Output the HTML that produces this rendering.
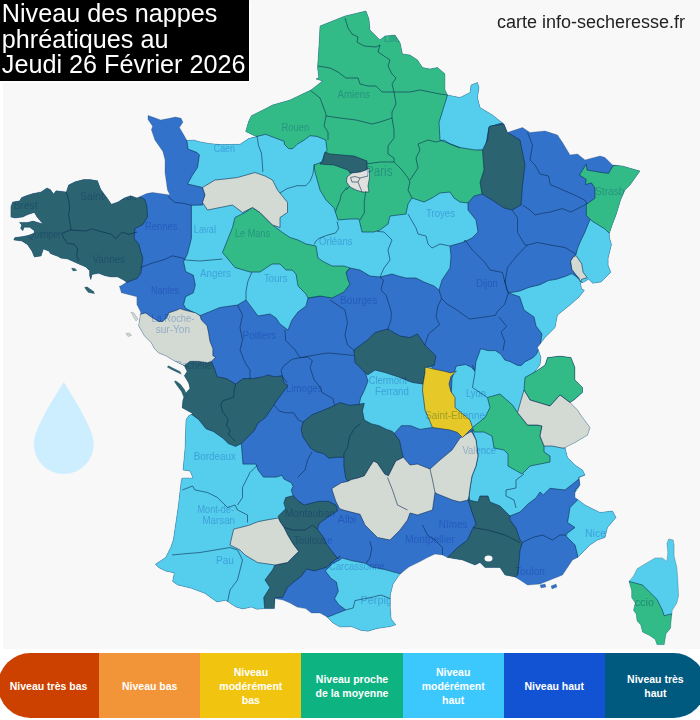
<!DOCTYPE html>
<html><head><meta charset="utf-8"><style>
html,body{margin:0;padding:0;background:#fff;width:700px;height:720px;overflow:hidden;position:relative;font-family:"Liberation Sans",sans-serif}
#map{position:absolute;left:3px;top:0;width:697px;height:649px;background:#f8f8f8}
#title{position:absolute;left:0;top:0;width:249px;height:81px;background:#000;color:#fff;font-size:25.2px;line-height:25.5px;padding:0;box-shadow:1.5px 1.5px 0 #fff}
#title div{padding-left:1.8px;padding-top:1px}
#site{position:absolute;left:497px;top:12px;font-size:18px;color:#222;white-space:nowrap}
#leg{position:absolute;left:-2px;top:653px;width:708px;height:65px;border-radius:32.5px;overflow:hidden;display:flex}
.li{flex:1;display:flex;align-items:center;justify-content:center;text-align:center;color:#fff;font-weight:bold;font-size:10.5px;line-height:14px}
</style></head><body>
<div id="map"></div>
<svg width="700" height="720" viewBox="0 0 700 720" style="position:absolute;left:0;top:0">
<defs><clipPath id="fr"><polygon points="345,16 320,26 319,45 317.5,67.5 318.75,77.5 316,79 322.5,81 311,90 302.5,94 290,100 272.5,105 262.9,110 251.4,115.7 248.6,121.4 245.7,131.4 254.3,135.7 257.1,136.4 248.6,138.6 240,144.3 220,144.6 208.6,143.4 199.4,141.7 193.7,140 186.9,140.6 183.4,134.3 179.4,127.4 182.9,122.3 181.1,118.3 175.4,117.1 169.7,118.3 160.6,120 152.6,117.1 148,115.4 148,119.4 152.6,126.3 151.4,129.7 154.9,140 162.9,151.4 165.1,160 165,172.5 167.5,190 170,195 152.5,192.5 146.7,193.6 137.1,197.9 130.7,195.7 124.3,197.9 117.9,202.1 111.4,204.3 107.1,197.9 100.7,189.3 97.5,180.7 90,179.6 83.6,179.6 75,181.8 68.6,185 66.3,191.9 56,190.7 53.7,194.1 50.3,189.6 46.9,187.9 41.1,191.9 33.1,193.6 27.4,195.3 21.7,197.6 19.4,201 12.6,202.1 10.9,206.7 10.9,217 14.9,218.1 22.9,217 27.4,214.7 34.3,212.4 37,217 43,224 33.1,221 27.4,222.5 22,222.5 19.4,222.5 21.7,225 20.6,228.4 22.9,230.7 24,227.3 29.7,227.3 34.3,230.7 34.3,233 28.6,235.3 22.9,236.4 14.9,237.6 13.7,239.9 21.7,241 27.4,244.4 32,251.3 34.3,257 41.1,255.9 43.4,249 49.1,251.3 50.3,253.6 59.4,257 60,257.9 67.7,259.1 79.3,264.3 85.7,266.9 89.6,270.7 89.6,275.8 90.8,279.7 92.1,274.6 98.6,273.3 105,275.8 111.4,277.1 117.8,277.1 123,279.7 126.8,282.3 120.4,286.1 119.4,286 121.4,292.8 129.2,294.7 136.9,296.7 136.9,304.4 140.8,312.2 138.6,325.7 144.3,335.7 151.4,342.9 154.3,348.6 158.6,352.9 165.7,355.7 172.9,360 178.6,362.9 184.3,365.7 187.1,371.4 184.3,375.7 188.6,382.9 190,388.6 185.7,392.9 182.9,400 182.1,407.8 192.8,413.6 188.9,415.6 186,419.4 185,448.6 183,470 190,471 193,478 182,478 181.1,481.7 178.2,506.9 175.3,526.4 173.3,540 170.9,547.1 165.7,557.4 155.4,564.3 158.9,567.7 165.7,571.1 174.3,572.9 172.6,581.4 177.7,584.9 191.4,588.3 205.1,593.4 212,598.6 217.1,602 225.7,600.3 236,607.1 242.9,608.9 251.4,607.1 257.1,609.3 264.3,608.6 274.3,608.6 275,598.6 282.9,600 290,602.9 297.1,607.1 305.7,608.6 311.4,612.9 320,612.9 327.1,617.1 332.9,622.9 340,627.1 351.3,626.6 360.6,630.3 368,631.2 377.3,628.4 390.3,626.6 395.8,624.7 391.2,619.1 390.3,608 390.3,595 393.1,583.9 399.6,574.6 408.8,567.1 420,561.6 427.5,557.5 435,554 442.5,555 447.5,557.5 462.5,560 475,565 480,562.5 485,567.5 500,567.5 505,575 515,577 520,580 527.5,585 540,584 550,580 562.5,575 567.5,567.5 572.5,560 577.5,557.5 582.5,552.5 590,545 597.5,540 605,537.5 607.5,527.5 616,517.5 612.5,511 600,512.5 585,505 575,497.5 575,492.5 580,485 579,477.5 585,475 582.5,470 575,465 567.5,457.5 565,447.5 575,442.5 587.5,435 590,427.5 582.5,417.5 577.5,410 570,402.5 574,400 582.5,392.5 582.5,387.5 575,380 575,367.5 571,357.5 560,356 547.5,357.5 545,365 534,372.5 540,365 541,357.5 537.5,347.5 545,337.5 555,327.5 557.5,315 570,305 578.9,297.2 584.4,290.3 581.7,288.9 580.3,283 584,282 588.6,279.2 592.8,283.3 601.1,281.9 605.3,277.8 610.8,272.2 608.1,265.3 608.1,258.3 611.5,244.4 609.4,237.5 609.4,233.3 612.2,225 616.4,213.9 620.6,200 625,190 630,185 640,171 622.5,166 612.5,165 605,157.5 600,156 585,160 577.5,154 570,155 562.5,142.5 557.5,135 545,131 530,132.5 522.5,127.5 507.5,132.5 504,124 500,121 492.5,115 480,107.5 477.5,97.5 479,87.5 477.5,82.5 471,85 470,92.5 460,97.5 447.5,95 445,90 445,74 437.5,67.5 430,69 422.5,67.5 417.5,60 410,55 402.5,54 400,42.5 395,35 385,36 380,40 370,30 369,19 366,11"/></clipPath><clipPath id="co"><polygon points="668.7,539 673.2,539.9 674.1,545.3 674.1,556.1 676.8,567 677.7,577.8 678.6,595.8 676.8,603 672.3,610.3 671.4,617.5 670.5,628.3 666,633.8 664.2,644.6 657,644.6 655.1,639.2 649.7,635.6 642.5,632 640.7,624.7 637.1,621.1 636.2,613.9 633.5,610.3 635.3,603 631.7,597.6 631.7,590.4 629,581.4 633.5,576 637.1,568.8 646.1,563.3 655.1,557.9 662.4,557.9 666.9,561.5 667.8,552.5 666.9,543.5"/></clipPath></defs>
<polygon points="345,16 320,26 319,45 317.5,67.5 318.75,77.5 316,79 322.5,81 311,90 302.5,94 290,100 272.5,105 262.9,110 251.4,115.7 248.6,121.4 245.7,131.4 254.3,135.7 257.1,136.4 248.6,138.6 240,144.3 220,144.6 208.6,143.4 199.4,141.7 193.7,140 186.9,140.6 183.4,134.3 179.4,127.4 182.9,122.3 181.1,118.3 175.4,117.1 169.7,118.3 160.6,120 152.6,117.1 148,115.4 148,119.4 152.6,126.3 151.4,129.7 154.9,140 162.9,151.4 165.1,160 165,172.5 167.5,190 170,195 152.5,192.5 146.7,193.6 137.1,197.9 130.7,195.7 124.3,197.9 117.9,202.1 111.4,204.3 107.1,197.9 100.7,189.3 97.5,180.7 90,179.6 83.6,179.6 75,181.8 68.6,185 66.3,191.9 56,190.7 53.7,194.1 50.3,189.6 46.9,187.9 41.1,191.9 33.1,193.6 27.4,195.3 21.7,197.6 19.4,201 12.6,202.1 10.9,206.7 10.9,217 14.9,218.1 22.9,217 27.4,214.7 34.3,212.4 37,217 43,224 33.1,221 27.4,222.5 22,222.5 19.4,222.5 21.7,225 20.6,228.4 22.9,230.7 24,227.3 29.7,227.3 34.3,230.7 34.3,233 28.6,235.3 22.9,236.4 14.9,237.6 13.7,239.9 21.7,241 27.4,244.4 32,251.3 34.3,257 41.1,255.9 43.4,249 49.1,251.3 50.3,253.6 59.4,257 60,257.9 67.7,259.1 79.3,264.3 85.7,266.9 89.6,270.7 89.6,275.8 90.8,279.7 92.1,274.6 98.6,273.3 105,275.8 111.4,277.1 117.8,277.1 123,279.7 126.8,282.3 120.4,286.1 119.4,286 121.4,292.8 129.2,294.7 136.9,296.7 136.9,304.4 140.8,312.2 138.6,325.7 144.3,335.7 151.4,342.9 154.3,348.6 158.6,352.9 165.7,355.7 172.9,360 178.6,362.9 184.3,365.7 187.1,371.4 184.3,375.7 188.6,382.9 190,388.6 185.7,392.9 182.9,400 182.1,407.8 192.8,413.6 188.9,415.6 186,419.4 185,448.6 183,470 190,471 193,478 182,478 181.1,481.7 178.2,506.9 175.3,526.4 173.3,540 170.9,547.1 165.7,557.4 155.4,564.3 158.9,567.7 165.7,571.1 174.3,572.9 172.6,581.4 177.7,584.9 191.4,588.3 205.1,593.4 212,598.6 217.1,602 225.7,600.3 236,607.1 242.9,608.9 251.4,607.1 257.1,609.3 264.3,608.6 274.3,608.6 275,598.6 282.9,600 290,602.9 297.1,607.1 305.7,608.6 311.4,612.9 320,612.9 327.1,617.1 332.9,622.9 340,627.1 351.3,626.6 360.6,630.3 368,631.2 377.3,628.4 390.3,626.6 395.8,624.7 391.2,619.1 390.3,608 390.3,595 393.1,583.9 399.6,574.6 408.8,567.1 420,561.6 427.5,557.5 435,554 442.5,555 447.5,557.5 462.5,560 475,565 480,562.5 485,567.5 500,567.5 505,575 515,577 520,580 527.5,585 540,584 550,580 562.5,575 567.5,567.5 572.5,560 577.5,557.5 582.5,552.5 590,545 597.5,540 605,537.5 607.5,527.5 616,517.5 612.5,511 600,512.5 585,505 575,497.5 575,492.5 580,485 579,477.5 585,475 582.5,470 575,465 567.5,457.5 565,447.5 575,442.5 587.5,435 590,427.5 582.5,417.5 577.5,410 570,402.5 574,400 582.5,392.5 582.5,387.5 575,380 575,367.5 571,357.5 560,356 547.5,357.5 545,365 534,372.5 540,365 541,357.5 537.5,347.5 545,337.5 555,327.5 557.5,315 570,305 578.9,297.2 584.4,290.3 581.7,288.9 580.3,283 584,282 588.6,279.2 592.8,283.3 601.1,281.9 605.3,277.8 610.8,272.2 608.1,265.3 608.1,258.3 611.5,244.4 609.4,237.5 609.4,233.3 612.2,225 616.4,213.9 620.6,200 625,190 630,185 640,171 622.5,166 612.5,165 605,157.5 600,156 585,160 577.5,154 570,155 562.5,142.5 557.5,135 545,131 530,132.5 522.5,127.5 507.5,132.5 504,124 500,121 492.5,115 480,107.5 477.5,97.5 479,87.5 477.5,82.5 471,85 470,92.5 460,97.5 447.5,95 445,90 445,74 437.5,67.5 430,69 422.5,67.5 417.5,60 410,55 402.5,54 400,42.5 395,35 385,36 380,40 370,30 369,19 366,11" fill="#3272cb"/>
<g clip-path="url(#fr)">
<polygon points="187,120 186.9,140.6 188,149.1 197.1,152.6 199.4,154.9 197.5,167.5 192.5,175 187.5,184 202.5,187.5 205,195 202.5,205 191.4,205.3 191.4,218.9 191.4,238.3 187.5,253.9 183.6,261.7 185.6,271.4 193.3,275.3 195.3,285 193.3,292.8 185.6,296.7 183.6,304.4 185.6,308.3 193.3,312.2 200,315.7 220,307.5 237.5,305 246,300 252,308 258,316 270,314 276,318 280,324 288,330 292,320 298,312 306,306 308,298 332,294 343,288 345,274 350,268 360,270 370,276 380,277 392,274 398,276 406,278 416,278 424,282 434,286 439,290 442,280 450,268 451,256 450,246 464,242 472,238 478,232 476,220 468,210 468,204 470,190 440,180 400,170 360,150 330,130 300,125 250,120" fill="#55cdec" stroke="#0a2a50" stroke-opacity="0.62" stroke-width="0.95"/>
<polygon points="430,60 490,60 505,122 489,127 485,150 435,152 430,100" fill="#55cdec" stroke="#0a2a50" stroke-opacity="0.62" stroke-width="0.95"/>
<polygon points="590,219.4 587.2,226.4 584.4,233.3 580.3,241.7 577.5,248.6 576.1,254.2 573.3,256.9 570.6,261.1 571.9,269.4 576.1,275 580,282 600,300 650,300 650,215 600,218" fill="#55cdec" stroke="#0a2a50" stroke-opacity="0.62" stroke-width="0.95"/>
<polygon points="508.4,293 519.6,291.1 528.8,287.4 540,284.7 548.3,280.6 556.7,279.2 565,276.4 571.9,273.6 576.1,276.4 590,290 600,300 560,350 540,346 542,334 536,326 534,317 524,310 519.6,296.7" fill="#55cdec" stroke="#0a2a50" stroke-opacity="0.62" stroke-width="0.95"/>
<polygon points="355,362 364.3,370 368,381.1 364.3,390.4 360.6,397.9 358,410 360,428 392,436 401.4,425.7 410.7,425.7 420,429.4 432.5,427.5 445,425 440,376 430,365 375,355" fill="#55cdec" stroke="#0a2a50" stroke-opacity="0.62" stroke-width="0.95"/>
<polygon points="452,378 456.4,366 465.7,364.5 471.3,367.3 475,371 475.9,361.7 478.7,354.3 480.6,348.7 488,350.6 495.4,350.6 501,354.3 504.7,359.9 510.3,361.7 517.7,365.4 521.4,365.4 525.1,361.7 532.6,358 536.3,354.3 538.1,350.6 540,346.9 545,345 550,380 540,420 500,420 472,430 450,420" fill="#55cdec" stroke="#0a2a50" stroke-opacity="0.62" stroke-width="0.95"/>
<polygon points="472,430 476,440 478,456 476,466 472,476 470,488 469,496 472,512 510,516 520,512 528,504 536,498 540,492 543.3,495 550,488.3 565,490 580,478.3 600,470 590,430 545,430 500,430" fill="#55cdec" stroke="#0a2a50" stroke-opacity="0.62" stroke-width="0.95"/>
<polygon points="578.75,477.5 580,485 575,490 577.5,500 570,507.5 567.5,522.5 575,527.5 565,535 575,545 577.5,555 577.5,557.5 600,580 640,520 600,470" fill="#55cdec" stroke="#0a2a50" stroke-opacity="0.62" stroke-width="0.95"/>
<polygon points="150,400 200,415 241.3,443.6 243,464.1 256,464.1 257.9,469.7 263.4,477.1 276.4,477.1 282,475.3 283.9,479 291.3,482.7 293.1,486.4 291.3,490.1 293.1,495.7 288,530 280,575 270,612 150,612" fill="#55cdec" stroke="#0a2a50" stroke-opacity="0.62" stroke-width="0.95"/>
<polygon points="399.6,573.6 382.9,569 371.7,567.1 366.1,563.4 351.3,560.6 342,557.9 340.1,559.7 332.7,563.4 325.3,570.9 330.9,578.3 336.4,582 338.3,591.3 334.6,598.7 338.3,604.3 345.7,609.9 336.4,613.6 327.1,617.3 320,640 420,640 420,570" fill="#55cdec" stroke="#0a2a50" stroke-opacity="0.62" stroke-width="0.95"/>
<polygon points="240,0 460,0 447.5,95 439,122.5 440,140 460,147.5 475,150 484,150 490,170 492,190 482,194 474,196 468,203 460,202 454,198 450,192 440,193 432,198 424,202 412,198 408,204 406,214 390,216 388,224 380,230 374,232 362,232 359,219 350,219 338,220 334,208 326,200 320,190 315,172 314,165 322,162 324.3,154.3 327.1,150 325.7,140 317.1,136.4 310,135.7 304.3,140 297.1,144.3 292.9,148.6 288.6,148.6 284.3,144.3 284.3,141.4 277.1,138.6 272.9,137.1 265.7,134.3 257.1,136.4 252,137 240,137 235,0" fill="#33bb87" stroke="#0a2a50" stroke-opacity="0.62" stroke-width="0.95"/>
<polygon points="235,217.5 245,212.5 252.5,207.5 260,212.5 272.5,225 282.5,232.5 290,237.5 298,240 306,244 316,246 318,258 324,262 332,266 344,266 350,268 346,272 348,280 350,284 344,292 332,298 320,296 308,298 306,294 298,286 296,274 292,270 286,270 280,264 272,264 260,272 250,272 240,269 235,267.5 222.5,252.5 227.5,240 232.5,227.5" fill="#33bb87" stroke="#0a2a50" stroke-opacity="0.62" stroke-width="0.95"/>
<polygon points="586.3,164 587,170 596.6,171.7 608.6,173.4 613,165.7 650,160 650,234 608.6,232.6 605.1,229.1 591.4,220.6 586.3,215.4 586.3,204.3 594.9,198.3 594.9,188 591.4,182.9 585.4,184.6 586.3,179.4 579.4,175.1" fill="#33bb87" stroke="#0a2a50" stroke-opacity="0.62" stroke-width="0.95"/>
<polygon points="487.5,397.5 500,394 512.5,405 517.5,412.5 527.5,425 537.5,425 542,426 540,436 544,446 544,452 550,456 550,462 530,466 522,474 508,466 508,454 504,450 494,448 492,436 484,432 474,432 472.5,427.5 485,417.5 490,407.5" fill="#33bb87" stroke="#0a2a50" stroke-opacity="0.62" stroke-width="0.95"/>
<polygon points="534,372.5 545,365 547.5,357.5 560,356 571,357.5 575,367.5 575,380 582.5,387.5 582.5,392.5 574,400 570,402.5 560,395 550,406 530,400 524,390 525,377.5" fill="#33bb87" stroke="#0a2a50" stroke-opacity="0.62" stroke-width="0.95"/>
<polygon points="325,152 323,160 320,164 334,165 348,170 350,173 362,172 367,169 367,161 354,156 342,155 330,154" fill="#2b6370" stroke="#0a2a50" stroke-opacity="0.62" stroke-width="0.95"/>
<polygon points="0,150 138.9,150 138.9,196.5 144.7,199.4 146.7,205.3 147.6,216.9 142.8,224.7 135,228.6 134,238.3 138.9,244.2 140.8,251.9 142.8,257.8 141.8,265.6 140.8,273.3 137.1,278.4 126.8,282.3 118,285 100,320 0,320" fill="#2b6370" stroke="#0a2a50" stroke-opacity="0.62" stroke-width="0.95"/>
<polygon points="150,362 198.6,361.4 207.1,362.9 211.4,361.4 215,370 217.1,376.7 226.4,378.6 235.7,384.1 243.1,378.6 252.4,378.6 263.6,376.7 267.3,374.9 274.7,376.7 282.1,375.8 284,382.3 287.7,386 282.1,393.4 276.6,400.9 272.9,406.4 265.4,417.6 258,423.1 254.3,430.6 246.9,438 241.3,443.6 235.7,446.4 228.3,443.6 222.7,438 213.4,431.5 206,428.7 198.6,419.4 191.1,413.9 183.7,410.1 150,410" fill="#2b6370" stroke="#0a2a50" stroke-opacity="0.62" stroke-width="0.95"/>
<polygon points="285.7,497.6 293.1,495.7 298.7,501.3 304.3,505 311.7,503.1 319.1,501.3 328.4,501.3 335.8,505 337.7,510.6 326.6,518 319.1,523.6 317.3,529.1 322.9,536.6 326.6,544 332.1,551.4 337.7,558.8 340.1,556 332.7,561.6 327.1,567.1 314.1,570.9 306.7,569 301.1,576.4 293.7,582 287.5,587.5 282.5,597.5 275,597.5 275,612 265,612 263.75,597.5 270,587.5 265,580 272.5,570 275,565 287.5,562.5 295,555.1 298.7,551.4 293.1,544 287.6,534.7 283.9,527.3 280.1,521.7 278.3,516.1 285.7,508.7 283.9,503.1" fill="#2b6370" stroke="#0a2a50" stroke-opacity="0.62" stroke-width="0.95"/>
<polygon points="303,422 312.3,414.6 321.6,410.9 330.9,407.1 340.1,402.5 349.4,405.3 358.7,404.4 362.4,403.4 364.3,403.4 362.4,410.9 364.3,420.1 371.7,423.9 379.1,425.7 386.6,429.4 392.1,431.3 394,433.1 399.6,440.6 401.4,449.9 403.3,457.3 395.8,461 388.4,475.8 384.7,474 377.3,462.9 373.6,461 369.9,466.6 364.3,475.8 358.7,477.7 351.3,479.6 347.6,481.4 345.7,477.7 343.9,466.6 343.9,457.3 336.4,457.3 329,458.2 323.4,453.6 316,451.7 310.4,448 306.7,442.4 303,436.9 301.1,429.4" fill="#2b6370" stroke="#0a2a50" stroke-opacity="0.62" stroke-width="0.95"/>
<polygon points="353.75,350 367.5,340 375,332.5 387.5,329 400,336 410,337.6 417.4,333.9 424.9,345 436,356.1 434.1,365.4 426.7,367.3 424.9,372.9 423,384 412.5,382.5 400,377.5 385,372.5 375,370 367.5,375 355,362.5" fill="#2b6370" stroke="#0a2a50" stroke-opacity="0.62" stroke-width="0.95"/>
<polygon points="489,127.5 490,126 504,124 507.5,132.5 520,140 525,165 522.5,185 521,205 512,210 504,208 492,200 482,194 480,182.5 484,170 482.5,150 487.5,140" fill="#2b6370" stroke="#0a2a50" stroke-opacity="0.62" stroke-width="0.95"/>
<polygon points="468,500 478,502 480,496 488,496 490,502 500,506 506,512 510,516 510,520 516,528 520,540 522.5,542.5 520,550 518.75,565 517.5,575 515,577 515,600 440,600 447.5,557.5 457.5,547.5 467.5,540 472,530 476,524 472,512" fill="#2b6370" stroke="#0a2a50" stroke-opacity="0.62" stroke-width="0.95"/>
<polygon points="347,177 352,173 360,172 366,170 369,168 369.5,178 368,186 369,192 362,192 356,190 350,187 346.5,182" fill="#e0e1dd" stroke="#0a2a50" stroke-opacity="0.62" stroke-width="0.95"/>
<polygon points="202.5,187.5 215,180 225,179 237.5,177.5 255,172.5 265,176 272.5,180 277.5,190 287.5,202.5 287.5,212.5 280,217.5 280,227.5 272.5,225 260,212.5 252.5,207.5 242.5,212.5 232.5,205 220,207.5 207.5,210 202.5,202.5 205,195" fill="#d3d9d3" stroke="#0a2a50" stroke-opacity="0.62" stroke-width="0.95"/>
<polygon points="140,314.3 145.7,312.9 151.4,317.1 158.6,321.4 162.9,321.4 167.1,317.1 168.6,312.9 172.9,311.4 177.1,310 180,308.6 184.3,310 190,311.4 195.7,312.9 200,315.7 201.4,320 207.1,325.7 208.6,332.9 210,341.4 212.9,348.6 212.9,355.7 215.7,357.1 211.4,361.4 207.1,362.9 198.6,361.4 190,361.4 184.3,365.7 150,370 110,320 135,312" fill="#d3d9d3" stroke="#0a2a50" stroke-opacity="0.62" stroke-width="0.95"/>
<polygon points="278.3,518 267.1,519.9 257.9,521.7 248.6,525.4 241.1,527.3 233.7,529.1 231.9,536.6 230,545 240,550 245,555 257.5,562.5 275,565 287.5,562.5 295,555.1 298.7,551.4 293.1,544 287.6,534.7 283.9,527.3 280.1,521.7" fill="#d3d9d3" stroke="#0a2a50" stroke-opacity="0.62" stroke-width="0.95"/>
<polygon points="332.1,490.1 335.8,501.3 339.6,508.7 345.1,510.6 360,514.3 365,525 377.5,537.5 390,540 400,530 407.5,520 410,513 417.5,515 432.5,510 435,492.5 437.5,494 452.5,500 460,502 468,500 469,496 470,488 472,476 476,466 478,456 476,440 472,432 470,432 460,438 452,450 440,460 430,469 417.5,464 410,465 403.3,457.3 395.8,461 388.4,475.8 384.7,474 377.3,462.9 373.6,461 369.9,466.6 364.3,475.8 358.7,477.7 351.3,479.6 347.6,481.4 341.4,482.7 332.1,488.3" fill="#d3d9d3" stroke="#0a2a50" stroke-opacity="0.62" stroke-width="0.95"/>
<polygon points="573.3,256.9 570.6,261.1 571.9,269.4 576.1,275 578.9,277.8 580.3,281.9 581.7,279.2 587.2,277.8 583.1,272.2 581.7,263.9 576.1,255.6" fill="#d3d9d3" stroke="#0a2a50" stroke-opacity="0.62" stroke-width="0.95"/>
<polygon points="524,390 530,400 550,406 560,395 570,402.5 600,400 600,446 565,448 562,448 552,446 544,446 540,436 542,426 537.5,425 527.5,425 517.5,412.5" fill="#d3d9d3" stroke="#0a2a50" stroke-opacity="0.62" stroke-width="0.95"/>
<polygon points="425,367.5 426.7,367.3 434.1,369.1 443.4,371 450.9,372.9 456.4,371 450.9,376.6 449,384 450.9,391.4 455,397.5 455,407.5 470,420 472.5,427.5 462.5,437.5 457.5,432.5 450,430 432.5,427.5 425,410 422.5,390 423,384 424.9,372.9" fill="#e6c828" stroke="#0a2a50" stroke-opacity="0.62" stroke-width="0.95"/>
<polyline points="66.3,191.9 68.6,199.9 69.7,207.9 68.6,214.7 70.9,228.4 70.7,230" fill="none" stroke="#0a2a50" stroke-opacity="0.62" stroke-width="0.95"/>
<polyline points="61.7,233 64,238.7 67.4,243.3 74.3,244.4 77.7,249 76.6,255.9 78.9,261" fill="none" stroke="#0a2a50" stroke-opacity="0.62" stroke-width="0.95"/>
<polyline points="62.1,233.2 70.7,230 85.7,231 92.1,228.9 102.9,232.1 111.4,234.3 115.7,238.6 122.1,232.1 128.6,234.3 137.1,232.1" fill="none" stroke="#0a2a50" stroke-opacity="0.62" stroke-width="0.95"/>
<polyline points="168,196.5 175,202.5 183.6,203.3 191.4,205.3" fill="none" stroke="#0a2a50" stroke-opacity="0.62" stroke-width="0.95"/>
<polyline points="140.8,267.5 150.6,263.6 164.2,259.7 172,255.8 181.7,257.8 185.6,259.7" fill="none" stroke="#0a2a50" stroke-opacity="0.62" stroke-width="0.95"/>
<polyline points="257.1,136.4 258.6,145.7 261.4,152.9 262.1,160 262.9,172" fill="none" stroke="#0a2a50" stroke-opacity="0.62" stroke-width="0.95"/>
<polyline points="280,192.9 287.1,188.6 297.1,185.7 305.7,185.7 310,181.4 312.9,174.3 314.3,164.3" fill="none" stroke="#0a2a50" stroke-opacity="0.62" stroke-width="0.95"/>
<polyline points="185.6,260 200,261 222.5,259" fill="none" stroke="#0a2a50" stroke-opacity="0.62" stroke-width="0.95"/>
<polyline points="252,272 248,281 246,291 246,300" fill="none" stroke="#0a2a50" stroke-opacity="0.62" stroke-width="0.95"/>
<polyline points="337.1,221.4 338.6,228.6 335.7,232.9 325.7,235.7 318.6,238.6 315.7,241.4 314.3,244.3" fill="none" stroke="#0a2a50" stroke-opacity="0.62" stroke-width="0.95"/>
<polyline points="377.1,231.4 384,232 392,240 388,250 390,260 384,268 380,277" fill="none" stroke="#0a2a50" stroke-opacity="0.62" stroke-width="0.95"/>
<polyline points="408,214 416,228 418,234 426,236 428,244 432,248 440,244 450,246" fill="none" stroke="#0a2a50" stroke-opacity="0.62" stroke-width="0.95"/>
<polyline points="345,18 348,28 352,34 358,37 357,42 364,46 376,47 380,45 378,52 384,56 390,60 388,66 392,74 396,78 392,84 394,92 410,92 420,90 440,94 447.5,95" fill="none" stroke="#0a2a50" stroke-opacity="0.62" stroke-width="0.95"/>
<polyline points="318,66 330,68 338,72 346,78 358,78 360,84 368,86 376,86 382,92 394,92" fill="none" stroke="#0a2a50" stroke-opacity="0.62" stroke-width="0.95"/>
<polyline points="394,92 396,104 392,112 392,118 394,130 394,138 388,146 388,154 394,158 394,162" fill="none" stroke="#0a2a50" stroke-opacity="0.62" stroke-width="0.95"/>
<polyline points="310,90 320,98 326,114 326,116 324,126 328,132 328,140" fill="none" stroke="#0a2a50" stroke-opacity="0.62" stroke-width="0.95"/>
<polyline points="326,116 340,118 356,120 372,124 380,122 392,118" fill="none" stroke="#0a2a50" stroke-opacity="0.62" stroke-width="0.95"/>
<polyline points="366,164 380,162 394,162 402,170 408,178 410,182 408,190 412,198" fill="none" stroke="#0a2a50" stroke-opacity="0.62" stroke-width="0.95"/>
<polyline points="410,180 418,168 416,158 420,150 418,144 428,140 436,142 444,140 450,144 460,148" fill="none" stroke="#0a2a50" stroke-opacity="0.62" stroke-width="0.95"/>
<polyline points="347.1,187.1 341.4,194.3 340,200 337.1,207.1 335.7,211.4" fill="none" stroke="#0a2a50" stroke-opacity="0.62" stroke-width="0.95"/>
<polyline points="365.7,191.4 364.3,201.4 364.3,212.9 360,220" fill="none" stroke="#0a2a50" stroke-opacity="0.62" stroke-width="0.95"/>
<polyline points="350,186 346,190" fill="none" stroke="#0a2a50" stroke-opacity="0.62" stroke-width="0.95"/>
<polyline points="350.5,177.5 355,176.5 360,178 358,182 352,182 350.5,177.5" fill="none" stroke="#0a2a50" stroke-opacity="0.62" stroke-width="0.95"/>
<polyline points="360,178 368,176" fill="none" stroke="#0a2a50" stroke-opacity="0.62" stroke-width="0.95"/>
<polyline points="358,182 362,192" fill="none" stroke="#0a2a50" stroke-opacity="0.62" stroke-width="0.95"/>
<polyline points="237.5,305 242.5,315 240,327.5 242.5,340 240,350 245,362.5 250,370 250,378.6" fill="none" stroke="#0a2a50" stroke-opacity="0.62" stroke-width="0.95"/>
<polyline points="285,330 285.7,340.4 295.1,349.9 299.9,357.7" fill="none" stroke="#0a2a50" stroke-opacity="0.62" stroke-width="0.95"/>
<polyline points="299.9,357.7 292,359.3 284.1,365.6 281,370.3 282.6,376.6 287.3,382.9" fill="none" stroke="#0a2a50" stroke-opacity="0.62" stroke-width="0.95"/>
<polyline points="299.9,357.7 317.1,354.6 328.1,353 345.4,354.6 353.3,355.4" fill="none" stroke="#0a2a50" stroke-opacity="0.62" stroke-width="0.95"/>
<polyline points="299.9,357.7 307.7,357 312.4,360.9 310,367.2 314,379.7 320.3,387.6 321.9,392.3 332.9,398.6 334.5,404.9" fill="none" stroke="#0a2a50" stroke-opacity="0.62" stroke-width="0.95"/>
<polyline points="330,300 345,310 347.5,322.5 345,335 347.5,345 353.75,350" fill="none" stroke="#0a2a50" stroke-opacity="0.62" stroke-width="0.95"/>
<polyline points="380,277 383.4,280 381,290 386,295 388.6,303 391.4,312.6 390.9,320 387.5,330" fill="none" stroke="#0a2a50" stroke-opacity="0.62" stroke-width="0.95"/>
<polyline points="439,290 441.6,298.6" fill="none" stroke="#0a2a50" stroke-opacity="0.62" stroke-width="0.95"/>
<polyline points="441.6,298.6 447.1,304.1 456.4,309.7 469.4,319 484.3,317.1 495.4,315.3 497.3,311.6" fill="none" stroke="#0a2a50" stroke-opacity="0.62" stroke-width="0.95"/>
<polyline points="497.3,311.6 504.7,304.1 508.4,293 506.6,289.3 504.7,280" fill="none" stroke="#0a2a50" stroke-opacity="0.62" stroke-width="0.95"/>
<polyline points="499.1,317.1 506.6,326.4 501,332 504.7,341.3 502.9,350.6" fill="none" stroke="#0a2a50" stroke-opacity="0.62" stroke-width="0.95"/>
<polyline points="441.6,298.6 437.9,306 436,317.1 439.7,324.6 428.6,333.9 424.9,345" fill="none" stroke="#0a2a50" stroke-opacity="0.62" stroke-width="0.95"/>
<polyline points="274,405 279.4,411.2 285.7,412.8 293.6,412.8 298.3,420 303,422" fill="none" stroke="#0a2a50" stroke-opacity="0.62" stroke-width="0.95"/>
<polyline points="527.5,132.5 532.5,145 530,160 535,165 540,174 548.6,176 550.3,184.6 562.3,189.7 574.3,194.9 584.6,200 587.1,203.4" fill="none" stroke="#0a2a50" stroke-opacity="0.62" stroke-width="0.95"/>
<polyline points="587.1,203.4 581.1,206.9 570.9,212 562.3,208.6 550.3,212 540,213.7 535,215 530,210 522.5,205" fill="none" stroke="#0a2a50" stroke-opacity="0.62" stroke-width="0.95"/>
<polyline points="512,210 517.5,217.5 517.5,232.5 525,245 527.5,245" fill="none" stroke="#0a2a50" stroke-opacity="0.62" stroke-width="0.95"/>
<polyline points="527.5,245 517.5,255 507.5,267.5 505,282.5 508.4,293" fill="none" stroke="#0a2a50" stroke-opacity="0.62" stroke-width="0.95"/>
<polyline points="527.5,245 537.5,242.5 550,245 565,247.5 576.1,254.2" fill="none" stroke="#0a2a50" stroke-opacity="0.62" stroke-width="0.95"/>
<polyline points="464,242 465,240 472.5,250 485,262.5 490,270 502.5,272.5 505,282.5" fill="none" stroke="#0a2a50" stroke-opacity="0.62" stroke-width="0.95"/>
<polyline points="182.5,490 192.5,486 195,490 207.5,492.5 217.5,497.5 225,505 227.5,507.5 235,505 237.5,510 247.5,515 247.5,522.5" fill="none" stroke="#0a2a50" stroke-opacity="0.62" stroke-width="0.95"/>
<polyline points="257.5,465 250,472.5 247.5,477.5 242.5,487.5 242.5,497.5 237.5,505" fill="none" stroke="#0a2a50" stroke-opacity="0.62" stroke-width="0.95"/>
<polyline points="172,555 185,553.75 200,552.5 215,550 230,547.5 237.5,550" fill="none" stroke="#0a2a50" stroke-opacity="0.62" stroke-width="0.95"/>
<polyline points="237.5,550 242.5,560 240,570 237.5,580 230,590 227.5,602" fill="none" stroke="#0a2a50" stroke-opacity="0.62" stroke-width="0.95"/>
<polyline points="297.5,477.5 305,470 307.5,460 312,452" fill="none" stroke="#0a2a50" stroke-opacity="0.62" stroke-width="0.95"/>
<polyline points="235.7,384.1 233.9,391.6 233.9,397.1 222.7,400.9 220.9,404.6 222.7,412 228.3,419.4 226.4,425 230.1,430.6 228.3,434.3 235.7,441.7" fill="none" stroke="#0a2a50" stroke-opacity="0.62" stroke-width="0.95"/>
<polyline points="283.9,527.3 292.5,530 305,530 312.5,525 317.3,529.1" fill="none" stroke="#0a2a50" stroke-opacity="0.62" stroke-width="0.95"/>
<polyline points="360.6,423.9 355,427.6 349.4,436.9 347.6,448 343.9,453.6 343.9,457.3" fill="none" stroke="#0a2a50" stroke-opacity="0.62" stroke-width="0.95"/>
<polyline points="472.5,527.5 487.5,530 505,535 520,542.5" fill="none" stroke="#0a2a50" stroke-opacity="0.62" stroke-width="0.95"/>
<polyline points="345.7,609.9 353.1,608 355,600.6 364.3,598.7 373.6,596.9 381,595 390.3,598.7" fill="none" stroke="#0a2a50" stroke-opacity="0.62" stroke-width="0.95"/>
<polyline points="369.9,541.1 371.7,548.6 369.9,557.9 366.1,563.4" fill="none" stroke="#0a2a50" stroke-opacity="0.62" stroke-width="0.95"/>
<polyline points="422.5,525 427.5,535 435,540 442.5,547.5 442.5,555" fill="none" stroke="#0a2a50" stroke-opacity="0.62" stroke-width="0.95"/>
<polyline points="522.5,542.5 532.5,537.5 542.5,535 552.5,540 560,535 567.5,535" fill="none" stroke="#0a2a50" stroke-opacity="0.62" stroke-width="0.95"/>
<polyline points="524,474 516,480 516,488 506,490 506,496 514,500 516,508" fill="none" stroke="#0a2a50" stroke-opacity="0.62" stroke-width="0.95"/>
<polyline points="472.5,365 475,372.5 472.5,387.5 487.5,397.5" fill="none" stroke="#0a2a50" stroke-opacity="0.62" stroke-width="0.95"/>
<polyline points="387.5,477.5 392.5,490 397.5,505 407.5,510" fill="none" stroke="#0a2a50" stroke-opacity="0.62" stroke-width="0.95"/>
<polyline points="430,469 432.5,480 435,492.5" fill="none" stroke="#0a2a50" stroke-opacity="0.62" stroke-width="0.95"/>
</g>
<text x="13.75" y="209.2" textLength="23.8" lengthAdjust="spacingAndGlyphs" font-size="10.5" fill="rgb(178,204,238)" clip-path="url(#fr)" style="mix-blend-mode:multiply">Brest</text>
<text x="80" y="200.2" textLength="57.0" lengthAdjust="spacingAndGlyphs" font-size="10.5" fill="rgb(178,204,238)" clip-path="url(#fr)" style="mix-blend-mode:multiply">Saint-Brieuc</text>
<text x="27.5" y="238.2" textLength="33.5" lengthAdjust="spacingAndGlyphs" font-size="10.5" fill="rgb(178,204,238)" clip-path="url(#fr)" style="mix-blend-mode:multiply">Quimper</text>
<text x="92.5" y="263.2" textLength="32.5" lengthAdjust="spacingAndGlyphs" font-size="10.5" fill="rgb(178,204,238)" clip-path="url(#fr)" style="mix-blend-mode:multiply">Vannes</text>
<text x="145" y="230.2" textLength="32.5" lengthAdjust="spacingAndGlyphs" font-size="10.5" fill="rgb(178,204,238)" clip-path="url(#fr)" style="mix-blend-mode:multiply">Rennes</text>
<text x="213.75" y="151.7" textLength="21.2" lengthAdjust="spacingAndGlyphs" font-size="10.5" fill="rgb(178,204,238)" clip-path="url(#fr)" style="mix-blend-mode:multiply">Caen</text>
<text x="193.75" y="233.2" textLength="22.2" lengthAdjust="spacingAndGlyphs" font-size="10.5" fill="rgb(178,204,238)" clip-path="url(#fr)" style="mix-blend-mode:multiply">Laval</text>
<text x="235" y="236.7" textLength="35.0" lengthAdjust="spacingAndGlyphs" font-size="10.5" fill="rgb(178,204,238)" clip-path="url(#fr)" style="mix-blend-mode:multiply">Le Mans</text>
<text x="200" y="276.7" textLength="31.0" lengthAdjust="spacingAndGlyphs" font-size="10.5" fill="rgb(178,204,238)" clip-path="url(#fr)" style="mix-blend-mode:multiply">Angers</text>
<text x="264" y="281.7" textLength="23.5" lengthAdjust="spacingAndGlyphs" font-size="10.5" fill="rgb(178,204,238)" clip-path="url(#fr)" style="mix-blend-mode:multiply">Tours</text>
<text x="151" y="294.2" textLength="28.0" lengthAdjust="spacingAndGlyphs" font-size="10.5" fill="rgb(178,204,238)" clip-path="url(#fr)" style="mix-blend-mode:multiply">Nantes</text>
<text x="242.5" y="339.2" textLength="33.5" lengthAdjust="spacingAndGlyphs" font-size="10.5" fill="rgb(178,204,238)" clip-path="url(#fr)" style="mix-blend-mode:multiply">Poitiers</text>
<text x="151.4" y="322.1" textLength="42.9" lengthAdjust="spacingAndGlyphs" font-size="10.5" fill="rgb(178,204,238)" clip-path="url(#fr)" style="mix-blend-mode:multiply">La Roche-</text>
<text x="155.7" y="332.8" textLength="34.3" lengthAdjust="spacingAndGlyphs" font-size="10.5" fill="rgb(178,204,238)" clip-path="url(#fr)" style="mix-blend-mode:multiply">sur-Yon</text>
<text x="162" y="369.2" textLength="50.0" lengthAdjust="spacingAndGlyphs" font-size="10.5" fill="rgb(178,204,238)" clip-path="url(#fr)" style="mix-blend-mode:multiply">La Rochelle</text>
<text x="286" y="391.7" textLength="36.5" lengthAdjust="spacingAndGlyphs" font-size="10.5" fill="rgb(178,204,238)" clip-path="url(#fr)" style="mix-blend-mode:multiply">Limoges</text>
<text x="319" y="245.2" textLength="33.5" lengthAdjust="spacingAndGlyphs" font-size="10.5" fill="rgb(178,204,238)" clip-path="url(#fr)" style="mix-blend-mode:multiply">Orléans</text>
<text x="340" y="304.2" textLength="37.5" lengthAdjust="spacingAndGlyphs" font-size="10.5" fill="rgb(178,204,238)" clip-path="url(#fr)" style="mix-blend-mode:multiply">Bourges</text>
<text x="426" y="217.2" textLength="29.0" lengthAdjust="spacingAndGlyphs" font-size="10.5" fill="rgb(178,204,238)" clip-path="url(#fr)" style="mix-blend-mode:multiply">Troyes</text>
<text x="476" y="287.2" textLength="22.0" lengthAdjust="spacingAndGlyphs" font-size="10.5" fill="rgb(178,204,238)" clip-path="url(#fr)" style="mix-blend-mode:multiply">Dijon</text>
<text x="337.5" y="98.2" textLength="32.5" lengthAdjust="spacingAndGlyphs" font-size="10.5" fill="rgb(178,204,238)" clip-path="url(#fr)" style="mix-blend-mode:multiply">Amiens</text>
<text x="384" y="41.7" textLength="16.0" lengthAdjust="spacingAndGlyphs" font-size="10.5" fill="rgb(178,204,238)" clip-path="url(#fr)" style="mix-blend-mode:multiply">Lille</text>
<text x="281.4" y="131.3" textLength="27.9" lengthAdjust="spacingAndGlyphs" font-size="10.5" fill="rgb(178,204,238)" clip-path="url(#fr)" style="mix-blend-mode:multiply">Rouen</text>
<text x="595" y="195.2" textLength="50.0" lengthAdjust="spacingAndGlyphs" font-size="10.5" fill="rgb(178,204,238)" clip-path="url(#fr)" style="mix-blend-mode:multiply">Strasbourg</text>
<text x="368.75" y="384.2" textLength="41.2" lengthAdjust="spacingAndGlyphs" font-size="10.5" fill="rgb(178,204,238)" clip-path="url(#fr)" style="mix-blend-mode:multiply">Clermont-</text>
<text x="375" y="395.2" textLength="33.8" lengthAdjust="spacingAndGlyphs" font-size="10.5" fill="rgb(178,204,238)" clip-path="url(#fr)" style="mix-blend-mode:multiply">Ferrand</text>
<text x="466" y="396.7" textLength="20.0" lengthAdjust="spacingAndGlyphs" font-size="10.5" fill="rgb(178,204,238)" clip-path="url(#fr)" style="mix-blend-mode:multiply">Lyon</text>
<text x="425" y="419.2" textLength="60.0" lengthAdjust="spacingAndGlyphs" font-size="10.5" fill="rgb(178,204,238)" clip-path="url(#fr)" style="mix-blend-mode:multiply">Saint-Etienne</text>
<text x="462.5" y="454.2" textLength="33.5" lengthAdjust="spacingAndGlyphs" font-size="10.5" fill="rgb(178,204,238)" clip-path="url(#fr)" style="mix-blend-mode:multiply">Valence</text>
<text x="193.75" y="460.2" textLength="42.2" lengthAdjust="spacingAndGlyphs" font-size="10.5" fill="rgb(178,204,238)" clip-path="url(#fr)" style="mix-blend-mode:multiply">Bordeaux</text>
<text x="197.5" y="513.2" textLength="36.5" lengthAdjust="spacingAndGlyphs" font-size="10.5" fill="rgb(178,204,238)" clip-path="url(#fr)" style="mix-blend-mode:multiply">Mont-de-</text>
<text x="202.5" y="524.2" textLength="32.5" lengthAdjust="spacingAndGlyphs" font-size="10.5" fill="rgb(178,204,238)" clip-path="url(#fr)" style="mix-blend-mode:multiply">Marsan</text>
<text x="216" y="564.2" textLength="18.0" lengthAdjust="spacingAndGlyphs" font-size="10.5" fill="rgb(178,204,238)" clip-path="url(#fr)" style="mix-blend-mode:multiply">Pau</text>
<text x="285" y="516.7" textLength="50.0" lengthAdjust="spacingAndGlyphs" font-size="10.5" fill="rgb(178,204,238)" clip-path="url(#fr)" style="mix-blend-mode:multiply">Montauban</text>
<text x="294" y="544.2" textLength="38.5" lengthAdjust="spacingAndGlyphs" font-size="10.5" fill="rgb(178,204,238)" clip-path="url(#fr)" style="mix-blend-mode:multiply">Toulouse</text>
<text x="337.5" y="523.2" textLength="18.5" lengthAdjust="spacingAndGlyphs" font-size="10.5" fill="rgb(178,204,238)" clip-path="url(#fr)" style="mix-blend-mode:multiply">Albi</text>
<text x="329" y="570.1" textLength="55.7" lengthAdjust="spacingAndGlyphs" font-size="10.5" fill="rgb(178,204,238)" clip-path="url(#fr)" style="mix-blend-mode:multiply">Carcassonne</text>
<text x="360.6" y="603.5" textLength="49.4" lengthAdjust="spacingAndGlyphs" font-size="10.5" fill="rgb(178,204,238)" clip-path="url(#fr)" style="mix-blend-mode:multiply">Perpignan</text>
<text x="438.75" y="528.2" textLength="28.8" lengthAdjust="spacingAndGlyphs" font-size="10.5" fill="rgb(178,204,238)" clip-path="url(#fr)" style="mix-blend-mode:multiply">Nîmes</text>
<text x="405" y="543.2" textLength="50.0" lengthAdjust="spacingAndGlyphs" font-size="10.5" fill="rgb(178,204,238)" clip-path="url(#fr)" style="mix-blend-mode:multiply">Montpellier</text>
<text x="515" y="575.2" textLength="30.0" lengthAdjust="spacingAndGlyphs" font-size="10.5" fill="rgb(178,204,238)" clip-path="url(#fr)" style="mix-blend-mode:multiply">Toulon</text>
<text x="585" y="536.7" textLength="21.0" lengthAdjust="spacingAndGlyphs" font-size="10.5" fill="rgb(178,204,238)" clip-path="url(#fr)" style="mix-blend-mode:multiply">Nice</text>
<text x="366" y="175.7" textLength="26.5" lengthAdjust="spacingAndGlyphs" font-size="14" fill="rgb(178,204,238)" clip-path="url(#fr)" style="mix-blend-mode:multiply">Paris</text>
<polygon points="345,16 320,26 319,45 317.5,67.5 318.75,77.5 316,79 322.5,81 311,90 302.5,94 290,100 272.5,105 262.9,110 251.4,115.7 248.6,121.4 245.7,131.4 254.3,135.7 257.1,136.4 248.6,138.6 240,144.3 220,144.6 208.6,143.4 199.4,141.7 193.7,140 186.9,140.6 183.4,134.3 179.4,127.4 182.9,122.3 181.1,118.3 175.4,117.1 169.7,118.3 160.6,120 152.6,117.1 148,115.4 148,119.4 152.6,126.3 151.4,129.7 154.9,140 162.9,151.4 165.1,160 165,172.5 167.5,190 170,195 152.5,192.5 146.7,193.6 137.1,197.9 130.7,195.7 124.3,197.9 117.9,202.1 111.4,204.3 107.1,197.9 100.7,189.3 97.5,180.7 90,179.6 83.6,179.6 75,181.8 68.6,185 66.3,191.9 56,190.7 53.7,194.1 50.3,189.6 46.9,187.9 41.1,191.9 33.1,193.6 27.4,195.3 21.7,197.6 19.4,201 12.6,202.1 10.9,206.7 10.9,217 14.9,218.1 22.9,217 27.4,214.7 34.3,212.4 37,217 43,224 33.1,221 27.4,222.5 22,222.5 19.4,222.5 21.7,225 20.6,228.4 22.9,230.7 24,227.3 29.7,227.3 34.3,230.7 34.3,233 28.6,235.3 22.9,236.4 14.9,237.6 13.7,239.9 21.7,241 27.4,244.4 32,251.3 34.3,257 41.1,255.9 43.4,249 49.1,251.3 50.3,253.6 59.4,257 60,257.9 67.7,259.1 79.3,264.3 85.7,266.9 89.6,270.7 89.6,275.8 90.8,279.7 92.1,274.6 98.6,273.3 105,275.8 111.4,277.1 117.8,277.1 123,279.7 126.8,282.3 120.4,286.1 119.4,286 121.4,292.8 129.2,294.7 136.9,296.7 136.9,304.4 140.8,312.2 138.6,325.7 144.3,335.7 151.4,342.9 154.3,348.6 158.6,352.9 165.7,355.7 172.9,360 178.6,362.9 184.3,365.7 187.1,371.4 184.3,375.7 188.6,382.9 190,388.6 185.7,392.9 182.9,400 182.1,407.8 192.8,413.6 188.9,415.6 186,419.4 185,448.6 183,470 190,471 193,478 182,478 181.1,481.7 178.2,506.9 175.3,526.4 173.3,540 170.9,547.1 165.7,557.4 155.4,564.3 158.9,567.7 165.7,571.1 174.3,572.9 172.6,581.4 177.7,584.9 191.4,588.3 205.1,593.4 212,598.6 217.1,602 225.7,600.3 236,607.1 242.9,608.9 251.4,607.1 257.1,609.3 264.3,608.6 274.3,608.6 275,598.6 282.9,600 290,602.9 297.1,607.1 305.7,608.6 311.4,612.9 320,612.9 327.1,617.1 332.9,622.9 340,627.1 351.3,626.6 360.6,630.3 368,631.2 377.3,628.4 390.3,626.6 395.8,624.7 391.2,619.1 390.3,608 390.3,595 393.1,583.9 399.6,574.6 408.8,567.1 420,561.6 427.5,557.5 435,554 442.5,555 447.5,557.5 462.5,560 475,565 480,562.5 485,567.5 500,567.5 505,575 515,577 520,580 527.5,585 540,584 550,580 562.5,575 567.5,567.5 572.5,560 577.5,557.5 582.5,552.5 590,545 597.5,540 605,537.5 607.5,527.5 616,517.5 612.5,511 600,512.5 585,505 575,497.5 575,492.5 580,485 579,477.5 585,475 582.5,470 575,465 567.5,457.5 565,447.5 575,442.5 587.5,435 590,427.5 582.5,417.5 577.5,410 570,402.5 574,400 582.5,392.5 582.5,387.5 575,380 575,367.5 571,357.5 560,356 547.5,357.5 545,365 534,372.5 540,365 541,357.5 537.5,347.5 545,337.5 555,327.5 557.5,315 570,305 578.9,297.2 584.4,290.3 581.7,288.9 580.3,283 584,282 588.6,279.2 592.8,283.3 601.1,281.9 605.3,277.8 610.8,272.2 608.1,265.3 608.1,258.3 611.5,244.4 609.4,237.5 609.4,233.3 612.2,225 616.4,213.9 620.6,200 625,190 630,185 640,171 622.5,166 612.5,165 605,157.5 600,156 585,160 577.5,154 570,155 562.5,142.5 557.5,135 545,131 530,132.5 522.5,127.5 507.5,132.5 504,124 500,121 492.5,115 480,107.5 477.5,97.5 479,87.5 477.5,82.5 471,85 470,92.5 460,97.5 447.5,95 445,90 445,74 437.5,67.5 430,69 422.5,67.5 417.5,60 410,55 402.5,54 400,42.5 395,35 385,36 380,40 370,30 369,19 366,11" fill="none" stroke="#1d3f55" stroke-opacity="0.35" stroke-width="0.8"/>
<polygon points="167.1,367.1 171.4,369.5 177.1,372.2 181.4,374.3 180,371.4 172.9,368 168.6,365.7" fill="#2b6370" stroke="#1d3f55" stroke-opacity="0.35" stroke-width="0.6"/>
<polygon points="174.3,381.4 177.1,385.7 181.4,391.4 184.3,398.6 187.1,397.1 184.8,390 180.5,384.3 175.7,380.7" fill="#2b6370" stroke="#1d3f55" stroke-opacity="0.35" stroke-width="0.6"/>
<polygon points="84.4,287.4 88.3,292.6 94.7,293.8 93.4,291.3 87,286.8" fill="#2b6370" stroke="#1d3f55" stroke-opacity="0.35" stroke-width="0.6"/>
<polygon points="71.5,268 75,268.5 77,270.5 73,271" fill="#2b6370" stroke="#1d3f55" stroke-opacity="0.35" stroke-width="0.6"/>
<polygon points="131,312 134,313 138,319 136,321 133,316" fill="#d3d9d3" stroke="#1d3f55" stroke-opacity="0.35" stroke-width="0.6"/>
<polygon points="126,333.5 129.5,333 131.5,335.5 128,336.5" fill="#d3d9d3" stroke="#1d3f55" stroke-opacity="0.35" stroke-width="0.6"/>
<polygon points="540,585 545,584 546,587 541,588" fill="#3272cb" stroke="#1d3f55" stroke-opacity="0.35" stroke-width="0.6"/>
<polygon points="551,586 556,584 557,587 552,589" fill="#3272cb" stroke="#1d3f55" stroke-opacity="0.35" stroke-width="0.6"/>
<ellipse cx="488.5" cy="558.5" rx="4" ry="3" fill="#f8f8f8"/>
<polygon points="668.7,539 673.2,539.9 674.1,545.3 674.1,556.1 676.8,567 677.7,577.8 678.6,595.8 676.8,603 672.3,610.3 671.4,617.5 670.5,628.3 666,633.8 664.2,644.6 657,644.6 655.1,639.2 649.7,635.6 642.5,632 640.7,624.7 637.1,621.1 636.2,613.9 633.5,610.3 635.3,603 631.7,597.6 631.7,590.4 629,581.4 633.5,576 637.1,568.8 646.1,563.3 655.1,557.9 662.4,557.9 666.9,561.5 667.8,552.5 666.9,543.5" fill="#55cdec"/>
<g clip-path="url(#co)"><polygon points="629,581.4 642.5,585 649.7,592.2 657,599.4 662.4,610.3 664.2,615.7 671.4,613.9 680,640 650,660 620,600" fill="#33bb87" stroke="#0a2a50" stroke-opacity="0.62" stroke-width="0.95"/><text x="619" y="605.8" textLength="35" lengthAdjust="spacingAndGlyphs" font-size="10.5" fill="#208a72">Ajaccio</text></g>
<polygon points="668.7,539 673.2,539.9 674.1,545.3 674.1,556.1 676.8,567 677.7,577.8 678.6,595.8 676.8,603 672.3,610.3 671.4,617.5 670.5,628.3 666,633.8 664.2,644.6 657,644.6 655.1,639.2 649.7,635.6 642.5,632 640.7,624.7 637.1,621.1 636.2,613.9 633.5,610.3 635.3,603 631.7,597.6 631.7,590.4 629,581.4 633.5,576 637.1,568.8 646.1,563.3 655.1,557.9 662.4,557.9 666.9,561.5 667.8,552.5 666.9,543.5" fill="none" stroke="#1d3f55" stroke-opacity="0.35" stroke-width="0.8"/>
<path d="M63.75,382 C72,396 93.75,428 93.75,444 A30,30 0 0 1 33.75,444 C33.75,428 55.5,396 63.75,382 Z" fill="#cdeeff"/>
</svg>
<div id="title"><div>Niveau des nappes<br>phréatiques au<br>Jeudi 26 Février 2026</div></div>
<div id="site">carte info-secheresse.fr</div>
<div id="leg"><div class="li" style="background:#cd4100"><span>Niveau très bas</span></div><div class="li" style="background:#f29538"><span>Niveau bas</span></div><div class="li" style="background:#f1c40f"><span>Niveau<br>modérément<br>bas</span></div><div class="li" style="background:#0db381"><span>Niveau proche<br>de la moyenne</span></div><div class="li" style="background:#3cc8fc"><span>Niveau<br>modérément<br>haut</span></div><div class="li" style="background:#1253d3"><span>Niveau haut</span></div><div class="li" style="background:#005a80"><span>Niveau très<br>haut</span></div></div>
</body></html>
